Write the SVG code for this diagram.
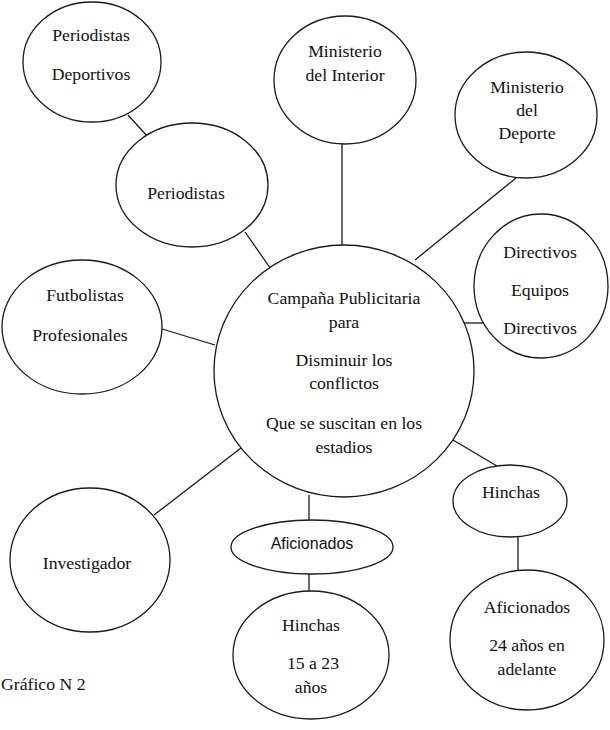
<svg xmlns="http://www.w3.org/2000/svg" width="610" height="730" viewBox="0 0 610 730">
<style>
  .n { fill: #ffffff; stroke: #1a1a1a; stroke-width: 1.3; }
  .c { stroke: #1a1a1a; stroke-width: 1.3; fill: none; }
  .t { font-family: "Liberation Serif", "Times New Roman", serif; font-size: 17.7px; fill: #111111; text-anchor: middle; }
  .s { font-family: "Liberation Sans", Arial, sans-serif; font-size: 16px; fill: #111111; text-anchor: middle; }
</style>
<rect x="0" y="0" width="610" height="730" fill="#ffffff"/>
<g id="connectors">
  <line class="c" x1="128" y1="115" x2="148" y2="137"/>
  <line class="c" x1="245" y1="232" x2="273" y2="272"/>
  <line class="c" x1="342" y1="143" x2="342" y2="245"/>
  <line class="c" x1="516" y1="178" x2="415" y2="260"/>
  <line class="c" x1="463" y1="323" x2="484" y2="323"/>
  <line class="c" x1="162" y1="329" x2="215" y2="345"/>
  <line class="c" x1="154" y1="515" x2="241" y2="448"/>
  <line class="c" x1="309" y1="495" x2="309" y2="520"/>
  <line class="c" x1="309" y1="574" x2="309" y2="591"/>
  <line class="c" x1="453" y1="440" x2="497" y2="466"/>
  <line class="c" x1="518" y1="537" x2="518" y2="570"/>
</g>
<g id="periodistas-deportivos">
  <ellipse class="n" cx="92" cy="62" rx="69" ry="60"/>
  <text class="t" x="91" y="41">Periodistas</text>
  <text class="t" x="91" y="80">Deportivos</text>
</g>
<g id="periodistas">
  <ellipse class="n" cx="192" cy="185" rx="76" ry="62"/>
  <text class="t" x="186" y="199">Periodistas</text>
</g>
<g id="ministerio-interior">
  <ellipse class="n" cx="345" cy="80" rx="71" ry="64"/>
  <text class="t" x="345" y="57">Ministerio</text>
  <text class="t" x="345" y="81">del Interior</text>
</g>
<g id="ministerio-deporte">
  <ellipse class="n" cx="526" cy="115" rx="71" ry="63"/>
  <text class="t" x="527" y="93">Ministerio</text>
  <text class="t" x="527" y="116">del</text>
  <text class="t" x="527" y="139">Deporte</text>
</g>
<g id="directivos">
  <ellipse class="n" cx="541" cy="286" rx="67" ry="72"/>
  <text class="t" x="540" y="258">Directivos</text>
  <text class="t" x="540" y="296">Equipos</text>
  <text class="t" x="540" y="334">Directivos</text>
</g>
<g id="futbolistas">
  <ellipse class="n" cx="82" cy="327" rx="80" ry="67"/>
  <text class="t" x="85" y="301">Futbolistas</text>
  <text class="t" x="80" y="341">Profesionales</text>
</g>
<g id="campana">
  <ellipse class="n" cx="344" cy="371" rx="130" ry="126"/>
  <text class="t" x="344" y="304">Campaña Publicitaria</text>
  <text class="t" x="344" y="328">para</text>
  <text class="t" x="344" y="366">Disminuir los</text>
  <text class="t" x="344" y="389">conflictos</text>
  <text class="t" x="344" y="429">Que se suscitan en los</text>
  <text class="t" x="344" y="453">estadios</text>
</g>
<g id="investigador">
  <ellipse class="n" cx="90" cy="560" rx="80" ry="72"/>
  <text class="t" x="87" y="569">Investigador</text>
</g>
<g id="hinchas-right">
  <ellipse class="n" cx="510" cy="501" rx="57" ry="36"/>
  <text class="t" x="511" y="498">Hinchas</text>
</g>
<g id="aficionados-small">
  <ellipse class="n" cx="312" cy="547" rx="81" ry="27"/>
  <text class="s" x="312" y="549">Aficionados</text>
</g>
<g id="hinchas-15-23">
  <ellipse class="n" cx="311" cy="655" rx="78" ry="64"/>
  <text class="t" x="311" y="631">Hinchas</text>
  <text class="t" x="313" y="669">15 a 23</text>
  <text class="t" x="311" y="693">años</text>
</g>
<g id="aficionados-24">
  <ellipse class="n" cx="527" cy="640" rx="77" ry="70"/>
  <text class="t" x="527" y="613">Aficionados</text>
  <text class="t" x="527" y="651">24 años en</text>
  <text class="t" x="527" y="675">adelante</text>
</g>
<text class="t" x="1" y="690" style="text-anchor:start">Gráfico N 2</text>
</svg>
